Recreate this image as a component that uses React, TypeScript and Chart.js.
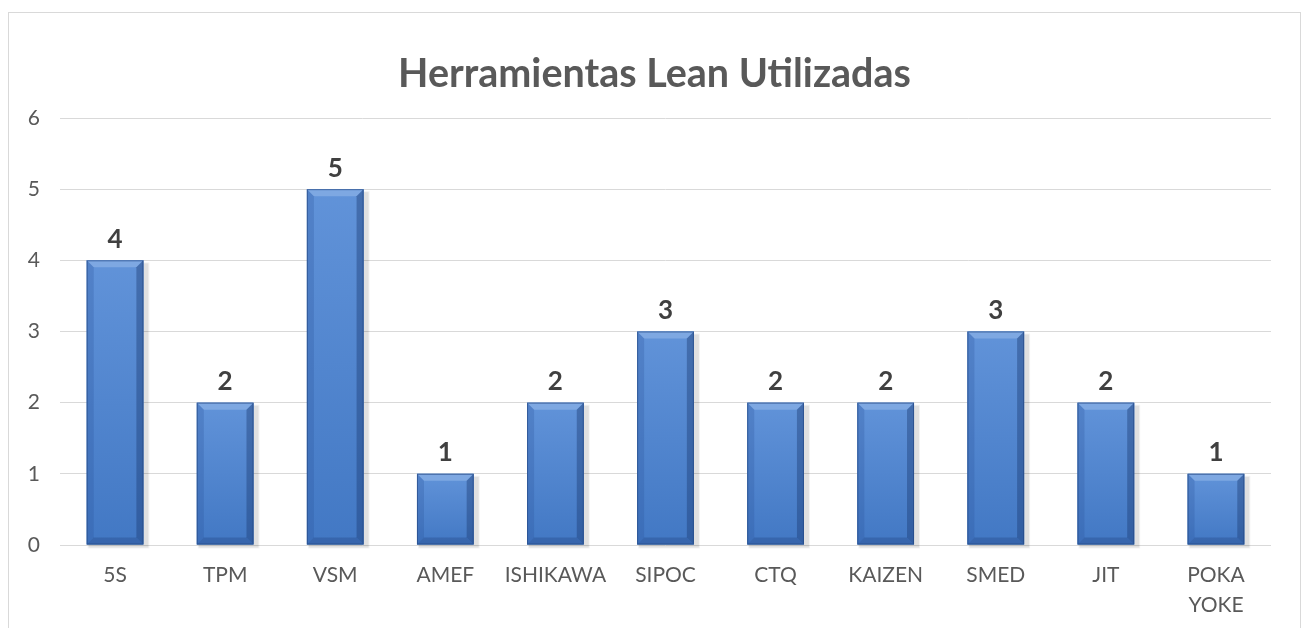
import React, { useEffect, useRef } from "react";
import { Chart, registerables } from "chart.js";

Chart.register(...registerables);

const categories: (string | string[])[] = [
  "5S", "TPM", "VSM", "AMEF", "ISHIKAWA", "SIPOC", "CTQ", "KAIZEN", "SMED", "JIT", ["POKA", "YOKE"],
];
const values: number[] = [4, 2, 5, 1, 2, 3, 2, 2, 3, 2, 1];
const yTicks: number[] = [0, 1, 2, 3, 4, 5, 6];
const titleText = "Herramientas Lean Utilizadas";

const FONT = "Lato, 'Open Sans', sans-serif";

const bevelPlugin = {
  id: "bevelBars",
  beforeDatasetsDraw(chart: any) {
    const ctx = chart.ctx;
    const meta = chart.getDatasetMeta(0);
    ctx.save();
    meta.data.forEach((bar: any) => {
      const w = bar.width;
      const l = bar.x - w / 2;
      const top = bar.y;
      const bottom = bar.base;
      ctx.fillStyle = "rgba(0,0,0,0.08)";
      ctx.fillRect(l + 2, top + 3, w + 3, bottom - top);
      ctx.fillStyle = "rgba(0,0,0,0.05)";
      ctx.fillRect(l + 1, top + 2, w + 5, bottom - top + 2);
    });
    ctx.restore();
  },
  afterDatasetsDraw(chart: any) {
    const ctx = chart.ctx;
    const meta = chart.getDatasetMeta(0);
    ctx.save();
    meta.data.forEach((bar: any, i: number) => {
      const w = bar.width;
      const l = bar.x - w / 2;
      const r = l + w;
      const top = bar.y;
      const bottom = bar.base;
      const h = bottom - top;
      const b = 7;
      const g = ctx.createLinearGradient(0, top, 0, bottom);
      g.addColorStop(0, "#6193d9");
      g.addColorStop(1, "#4278c4");
      ctx.fillStyle = g;
      ctx.fillRect(l, top, w, h);
      ctx.beginPath();
      ctx.moveTo(l, top);
      ctx.lineTo(r, top);
      ctx.lineTo(r - b, top + b);
      ctx.lineTo(l + b, top + b);
      ctx.closePath();
      ctx.fillStyle = "#7ea8e2";
      ctx.fill();
      ctx.beginPath();
      ctx.moveTo(l, top);
      ctx.lineTo(l + b, top + b);
      ctx.lineTo(l + b, bottom - b);
      ctx.lineTo(l, bottom);
      ctx.closePath();
      ctx.fillStyle = "rgba(40,80,150,0.25)";
      ctx.fill();
      ctx.beginPath();
      ctx.moveTo(r, top);
      ctx.lineTo(r - b, top + b);
      ctx.lineTo(r - b, bottom - b);
      ctx.lineTo(r, bottom);
      ctx.closePath();
      ctx.fillStyle = "rgba(25,55,110,0.4)";
      ctx.fill();
      ctx.beginPath();
      ctx.moveTo(l, bottom);
      ctx.lineTo(l + b, bottom - b);
      ctx.lineTo(r - b, bottom - b);
      ctx.lineTo(r, bottom);
      ctx.closePath();
      ctx.fillStyle = "rgba(30,60,120,0.3)";
      ctx.fill();
      ctx.strokeStyle = "rgba(35,70,130,0.65)";
      ctx.lineWidth = 1;
      ctx.strokeRect(l + 0.5, top + 0.5, w - 1, h - 1);
      ctx.fillStyle = "#404040";
      ctx.font = "bold 26px " + FONT;
      ctx.textAlign = "center";
      ctx.textBaseline = "middle";
      ctx.fillText(String(values[i]), bar.x, top - 21);
    });
    ctx.restore();
  },
};

export default function App() {
  const ref = useRef<HTMLCanvasElement | null>(null);
  useEffect(() => {
    if (!ref.current) return;
    const chart = new Chart(ref.current, {
      type: "bar",
      data: {
        labels: categories as any,
        datasets: [
          {
            data: values,
            backgroundColor: "#4f81bd",
            borderWidth: 0,
            barPercentage: 0.515,
            categoryPercentage: 1,
          },
        ],
      },
      options: {
        animation: false,
        responsive: false,
        maintainAspectRatio: false,
        layout: { padding: 0 },
        plugins: {
          legend: { display: false },
          tooltip: { enabled: false },
          title: {
            display: true,
            text: titleText,
            color: "#595959",
            font: { family: FONT, size: 39.5, weight: "bold", lineHeight: 1.2 },
            padding: { top: 38, bottom: 19.6 },
          },
        },
        scales: {
          x: {
            grid: { display: false, drawTicks: false },
            border: { display: false },
            ticks: {
              color: "#595959",
              font: { family: FONT, size: 21, lineHeight: 1.4 },
              padding: 16,
              maxRotation: 0,
              autoSkip: false,
            },
            afterFit: (s: any) => {
              s.height = 82;
            },
          },
          y: {
            min: 0,
            max: 6,
            afterBuildTicks: (s: any) => {
              s.ticks = yTicks.map((v) => ({ value: v }));
            },
            grid: { color: "#d9d9d9", lineWidth: 1, drawTicks: false },
            border: { display: false },
            ticks: {
              color: "#595959",
              font: { family: FONT, size: 21 },
              padding: 20,
            },
            afterFit: (s: any) => {
              s.width = 51;
            },
          },
          yRight: {
            type: "linear",
            position: "right",
            min: 0,
            max: 6,
            grid: { display: false, drawTicks: false },
            border: { display: false },
            ticks: { display: false },
            afterFit: (s: any) => {
              s.width = 29;
            },
          },
        },
      } as any,
      plugins: [bevelPlugin],
    });
    return () => chart.destroy();
  }, []);
  return (
    <div
      style={{
        position: "fixed",
        left: 8,
        top: 12,
        width: 1291,
        height: 616,
        border: "1px solid #d9d9d9",
        borderBottom: "none",
        background: "#fff",
      }}
    >
      <canvas ref={ref} width={1291} height={614} style={{ display: "block" }} />
    </div>
  );
}
